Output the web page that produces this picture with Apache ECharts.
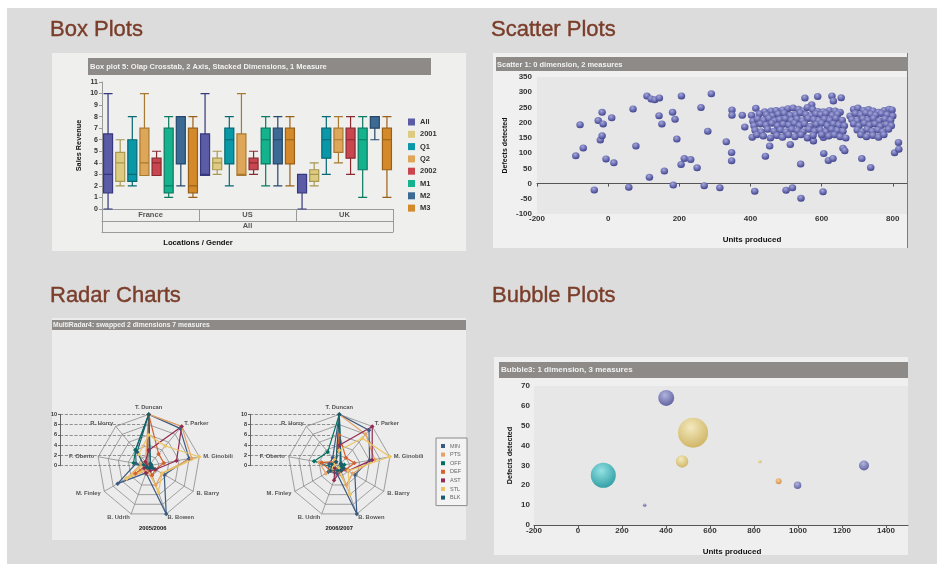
<!DOCTYPE html>
<html><head><meta charset="utf-8">
<script src="https://cdn.jsdelivr.net/npm/echarts@6/dist/echarts.min.js"></script>
<style>html,body{margin:0;padding:0;background:#fff}#c{width:937px;height:564px}</style>
</head><body><div id="c"></div><script>
// ---------- Box plot data ----------
const boxGroups = ['France', 'US', 'UK'];
const boxSeriesNames = ['All', '2001', 'Q1', 'Q2', '2002', 'M1', 'M2', 'M3'];
const boxColors = ['#5b5ba6', '#dccb80', '#0a98a8', '#dea658', '#c9464f', '#14b38e', '#3c6a94', '#d4892a'];
const boxBorders = ['#37377e', '#a89850', '#066872', '#a87a30', '#8a2a30', '#0a7a60', '#24486a', '#9a6018'];
// [min, Q1, median, Q3, max] per series
const boxFrance = [[0,1.4,3,6.5,10],[2,2.4,4,4.9,6],[2,2.4,3,6,8],[2.9,2.9,4,7,10],[2.9,2.9,4,4.4,5],[1,1.4,2,7,8],[2,3.9,8,8,8],[1,1.4,2,7,8]];
const boxUS     = [[2.9,2.9,3,6.5,10],[3,3.4,4,4.4,5],[2,3.9,6,7,8],[2.9,2.9,3,6.5,10],[3,3.4,4,4.4,5],[2,3.9,6,7,8],[2,3.9,6,7,8],[2,3.9,6,7,8]];
const boxUK     = [[0,1.4,3,3,3],[2,2.4,3,3.4,4],[3,4.4,6,7,8],[4,4.9,6,7,8],[3,4.4,6,7,8],[1,3.4,6,7,8],[6,7,8,8,8],[1,3.4,6,7,8]];

// ---------- Scatter data [units produced, defects detected] ----------
const scatterPoints = [
[-91,91],[-79,193],[-70,117],[-39,-21],[-28,207],[-17,234],[-22,143],[-17,157],[-14,196],[-6,81],[10,216],[16,68],
[58,-12],[70,245],[78,123],[109,288],[116,21],[121,278],[131,275],[144,281],[143,223],[151,196],[158,41],[181,234],
[183,-5],[188,211],[193,146],[206,288],[205,63],[214,82],[232,79],[250,52],[261,250],[270,-7],[280,172],[290,295],
[314,-14],[332,137],[348,242],[348,224],[347,102],[347,75],[377,224],[384,186],[412,-25],[442,90],[454,123],[500,-22],
[518,-14],[542,-48],[541,64],[553,281],[589,286],[577,140],[606,99],[604,-27],[619,76],[632,82],[629,288],[633,271],
[655,282],[660,116],[665,108],[713,82],[738,53],[805,101],[816,135],[817,113],[572,259],[512,128],[605,151],
[415,247],[440,236],[458,238],[472,240],[490,242],[505,246],[520,248],[535,244],[548,238],[560,250],[575,243],[590,237],
[605,236],[622,240],[638,238],[652,234],[690,244],[702,248],[718,240],[732,243],[745,238],[760,234],[776,240],[790,244],[798,242],
[403,224],[425,229],[445,226],[462,222],[478,228],[495,231],[512,224],[528,226],[540,232],[556,227],[570,222],[584,229],
[598,226],[612,230],[630,224],[645,228],[680,222],[695,230],[710,226],[724,232],[738,228],[752,224],[768,230],[784,226],[800,222],
[407,205],[420,212],[437,208],[452,214],[468,206],[482,210],[498,213],[515,208],[531,212],[546,206],[562,214],[578,210],
[592,206],[608,212],[623,208],[640,214],[658,208],[685,210],[700,206],[716,213],[730,208],[746,214],[762,206],[778,212],[794,208],
[410,190],[428,196],[444,192],[460,198],[476,190],[492,195],[508,192],[524,198],[538,190],[552,196],[568,188],[585,194],
[600,198],[616,190],[633,196],[648,192],[664,190],[690,196],[705,190],[720,198],[735,192],[750,196],[765,188],[782,194],[796,190],
[413,175],[430,170],[448,178],[466,172],[484,176],[500,170],[516,178],[532,174],[548,170],[564,178],[580,172],[596,176],
[612,170],[628,178],[644,174],[660,172],[700,176],[714,170],[728,178],[742,172],[758,176],[772,170],[788,178],
[405,152],[418,160],[436,156],[456,150],[474,158],[490,152],[507,160],[525,154],[542,160],[560,150],[576,158],[600,160],
[620,156],[636,160],[652,154],[668,150],[710,160],[726,154],[744,158],[760,152],[775,160]
];

// ---------- Bubble data ----------
const bubbleUnits   = [401, 523, 473, 115, 303, 827, 912, 998, 1300];
const bubbleDefects = [64, 46.5, 32, 25, 10, 32, 22, 20, 30];
const bubbleSize    = [64, 225, 39, 156, 3, 3, 9, 14, 25];
const bubbleColorKey = ['blue', 'gold', 'gold', 'teal', 'blue', 'gold', 'orange', 'blue', 'blue'];

// ---------- Radar data ----------
const radarPlayers = ['T. Duncan', 'R. Horry', 'F. Oberto', 'M. Finley', 'B. Udrih', 'B. Bowen', 'B. Barry', 'M. Ginobili', 'T. Parker'];
const radarMeasures = ['MIN', 'PTS', 'OFF', 'DEF', 'AST', 'STL', 'BLK'];
const radarColors = ['#3a5a82', '#e6a264', '#00705e', '#d4602e', '#922a52', '#ecc462', '#1a5c6c'];
const radarSeasons = ['2005/2006', '2006/2007'];
const radar0506 = [
  [10, 4, 2.5, 7, 1.5, 10, 3.5, 8, 9.5],
  [10, 1, 1.5, 5, 1, 4, 3, 8.5, 10],
  [10, 4, 3, 0.5, 0.5, 0.5, 0.5, 0.5, 0.5],
  [10, 0.5, 0.5, 3, 0.5, 2, 1.5, 3, 3],
  [3, 1, 0.5, 1, 1.5, 1, 1.5, 5.5, 10],
  [6, 3, 1, 5, 0.5, 5.5, 3, 10, 5],
  [10, 3.5, 1, 0.5, 0.5, 0.5, 1, 0.5, 0.5]
];
const radar0607 = [
  [10, 2, 2, 2.5, 1.5, 10, 3.5, 6, 9],
  [10, 1, 4, 3, 1, 4, 3, 7, 8],
  [10, 3.5, 5, 1, 0.5, 1, 0.5, 1, 0.5],
  [6, 1, 3.5, 2, 1, 1, 1.5, 3, 2],
  [4, 1, 1, 1, 3, 1, 2, 6.5, 10],
  [3, 1.5, 1, 2, 0.5, 6, 2, 10, 7],
  [10, 1, 1.5, 2, 1, 1, 1, 0.5, 0.5]
];

// ---------- build ----------
const FF = '"Liberation Sans", Arial, sans-serif';
const bold = (s, c) => ({fontSize: s, fontWeight: 'bold', color: c || '#333', fontFamily: FF});
const plain = v => String(v);

const boxRows = [boxFrance, boxUS, boxUK];
const boxSlots = [], boxData = [];
boxGroups.forEach((g, gi) => boxSeriesNames.forEach((s, si) => {
  boxSlots.push(g + ' ' + s);
  boxData.push({name: g + ' ' + s, value: boxRows[gi][si],
    itemStyle: {color: boxColors[si], borderColor: boxBorders[si], borderWidth: 1.2}});
}));

function ball(light, dark) {
  return {type: 'radial', x: 0.42, y: 0.32, r: 0.72, colorStops: [{offset: 0, color: light}, {offset: 1, color: dark}]};
}
const bubblePalette = {
  blue: ball('#a4a7dc', '#3a3d8a'), gold: ball('#f6eab4', '#c8a640'),
  teal: ball('#7ee0e2', '#008a92'), orange: ball('#f6c88a', '#d07820')
};

const radarCX = [148.7, 339.3];

const T = (x, y, text, font, fill, align, extra) => Object.assign({
  type: 'text', x: x, y: y, z: 20,
  style: {text: text, font: font, fill: fill, align: align || 'left', verticalAlign: 'middle',
          textAlign: align || 'left', textVerticalAlign: 'middle'}
}, extra || {});
const R = (x, y, w, h, fill) => ({type: 'rect', z: -10, shape: {x: x, y: y, width: w, height: h}, style: {fill: fill}});
const titleFont = 'normal 22px ' + FF;
const titleColor = '#7a3d2a';
const barColor = '#8d8a87';
const H = (x, y, text) => T(x, y, text, titleFont, titleColor, 'left',
  {style: {text: text, font: titleFont, fill: titleColor, stroke: titleColor, lineWidth: 0.4, verticalAlign: 'middle', textVerticalAlign: 'middle'}});

const option = {
  animation: false,
  textStyle: {fontFamily: FF},
  graphic: {elements: [
    R(7, 8, 930, 556, '#dcdcdc'),
    R(52, 53, 414, 198, '#efefee'),
    R(493, 53, 415, 195, '#f0f0f0'),
    R(907, 53, 1, 195, '#7a7a7a'),
    R(52, 318, 414, 222, '#ececec'),
    R(494, 357, 414, 198, '#efefef'),
    R(88, 58, 343, 17, barColor),
    R(496, 57, 412, 14, barColor),
    R(52, 320, 414, 10, barColor),
    R(499, 362, 409, 16, barColor),
    H(50, 30, 'Box Plots'),
    H(491, 30, 'Scatter Plots'),
    H(50, 296, 'Radar Charts'),
    H(492, 296, 'Bubble Plots'),
    T(90, 66.5, 'Box plot 5: Olap Crosstab, 2 Axis, Stacked Dimensions, 1 Measure', 'bold 7.5px ' + FF, '#f2f2f2'),
    T(497, 64.5, 'Scatter 1: 0 dimension, 2 measures', 'bold 7.5px ' + FF, '#f2f2f2'),
    T(53, 325, 'MultiRadar4: swapped 2 dimensions 7 measures', 'bold 6.8px ' + FF, '#f2f2f2'),
    T(501, 370, 'Bubble3: 1 dimension, 3 measures', 'bold 8px ' + FF, '#f2f2f2'),
    T(198, 243, 'Locations / Gender', 'bold 7.7px ' + FF, '#111', 'center'),
    T(152.7, 528.3, radarSeasons[0], 'bold 5.8px ' + FF, '#111', 'center'),
    T(339.3, 528.3, radarSeasons[1], 'bold 5.8px ' + FF, '#111', 'center')
  ]},
  legend: [
    {data: boxSeriesNames, orient: 'vertical', left: 408, top: 118, padding: 0, itemWidth: 7, itemHeight: 7, itemGap: 4.3,
     icon: 'rect', selectedMode: false, textStyle: bold(7.5, '#333')},
    {data: radarMeasures, orient: 'vertical', left: 436, top: 438, padding: [5, 6, 5, 5], itemWidth: 4, itemHeight: 4, itemGap: 2.6,
     icon: 'rect', selectedMode: false, borderColor: '#8a8a8a', borderWidth: 1, backgroundColor: '#f3f3f3',
     textStyle: {fontSize: 5.5, color: '#666', fontFamily: FF}}
  ],
  grid: [
    {left: 102, top: 82, width: 291, height: 127},
    {left: 537, top: 77, width: 370, height: 137, show: true, backgroundColor: '#e7e7e7', borderWidth: 0},
    {left: 534, top: 386, width: 374, height: 139, show: true, backgroundColor: '#e7e7e7', borderWidth: 0},
    {left: 60, top: 414.3, width: 88.7, height: 51.4},
    {left: 250, top: 414.3, width: 89.3, height: 51.4}
  ],
  xAxis: [
    {gridIndex: 0, type: 'category', data: boxSlots, axisLine: {lineStyle: {color: '#9a9a9a'}}, axisTick: {show: false}, axisLabel: {show: false}},
    {gridIndex: 0, type: 'category', data: boxGroups, position: 'bottom', offset: 12,
     axisLine: {lineStyle: {color: '#9a9a9a'}}, axisTick: {show: true, inside: true, length: 12, lineStyle: {color: '#9a9a9a'}},
     axisLabel: Object.assign({margin: -10.5}, bold(7.5, '#555'))},
    {gridIndex: 0, type: 'category', data: ['All'], position: 'bottom', offset: 23,
     axisLine: {lineStyle: {color: '#9a9a9a'}}, axisTick: {show: true, inside: true, length: 11, lineStyle: {color: '#9a9a9a'}},
     axisLabel: Object.assign({margin: -10}, bold(7.5, '#555'))},
    {gridIndex: 1, type: 'value', min: -200, max: 840, interval: 200, splitLine: {show: false},
     axisLine: {lineStyle: {color: '#555'}}, axisTick: {show: true, length: 3, lineStyle: {color: '#555'}},
     axisLabel: Object.assign({margin: 1, showMaxLabel: false, formatter: plain}, bold(8)),
     name: 'Units produced', nameLocation: 'middle', nameGap: 22, nameTextStyle: Object.assign({padding: [0, 0, 0, 60]}, bold(8, '#111'))},
    {gridIndex: 2, type: 'value', min: -200, max: 1500, interval: 200, splitLine: {show: false},
     axisLine: {lineStyle: {color: '#555'}}, axisTick: {show: true, length: 3, lineStyle: {color: '#555'}},
     axisLabel: Object.assign({margin: 2, showMaxLabel: false, formatter: plain}, bold(8)),
     name: 'Units produced', nameLocation: 'middle', nameGap: 23, nameTextStyle: Object.assign({padding: [0, 0, 0, 22]}, bold(8, '#111'))},
    {gridIndex: 3, type: 'value', show: false, min: 0, max: 1},
    {gridIndex: 4, type: 'value', show: false, min: 0, max: 1}
  ],
  yAxis: [
    {gridIndex: 0, type: 'value', min: 0, max: 11, interval: 1, splitLine: {show: false},
     axisLine: {show: true, lineStyle: {color: '#9a9a9a'}}, axisTick: {show: true, length: 3, lineStyle: {color: '#9a9a9a'}},
     axisLabel: Object.assign({margin: 4}, bold(7)),
     name: 'Sales Revenue', nameLocation: 'middle', nameGap: 20, nameTextStyle: bold(7.3, '#111')},
    {gridIndex: 1, type: 'value', min: -100, max: 350, interval: 50, splitLine: {show: false},
     axisLine: {show: false}, axisTick: {show: false}, axisLabel: Object.assign({margin: 5}, bold(8)),
     name: 'Defects detected', nameLocation: 'middle', nameGap: 28, nameTextStyle: bold(7, '#111')},
    {gridIndex: 2, type: 'value', min: 0, max: 70, interval: 10, splitLine: {show: false},
     axisLine: {show: false}, axisTick: {show: false}, axisLabel: Object.assign({margin: 4}, bold(8)),
     name: 'Defects detected', nameLocation: 'middle', nameGap: 20, nameTextStyle: bold(7.2, '#111')},
    {gridIndex: 3, type: 'value', min: 0, max: 10, interval: 2,
     axisLine: {show: true, lineStyle: {color: '#666'}}, axisTick: {show: true, length: 2, lineStyle: {color: '#666'}},
     axisLabel: Object.assign({margin: 3}, bold(5.5)),
     splitLine: {show: true, lineStyle: {type: 'dashed', color: '#777', width: 0.8}}},
    {gridIndex: 4, type: 'value', min: 0, max: 10, interval: 2,
     axisLine: {show: true, lineStyle: {color: '#666'}}, axisTick: {show: true, length: 2, lineStyle: {color: '#666'}},
     axisLabel: Object.assign({margin: 3}, bold(5.5)),
     splitLine: {show: true, lineStyle: {type: 'dashed', color: '#777', width: 0.8}}}
  ],
  radar: radarCX.map(cx => ({
    center: [cx, 465.7], radius: 51.3, startAngle: 90, splitNumber: 5, shape: 'polygon',
    indicator: radarPlayers.map(p => ({name: p, min: 0, max: 10})),
    axisName: bold(5.8, '#555'), nameGap: 4,
    splitLine: {lineStyle: {color: '#8a8a8a', width: 0.8}},
    splitArea: {show: false},
    axisLine: {lineStyle: {color: '#8a8a8a', width: 0.8}}
  })),
  series: [
    {type: 'boxplot', xAxisIndex: 0, yAxisIndex: 0, boxWidth: [9, 9], data: boxData, emphasis: {disabled: true}},
    ...boxSeriesNames.map((n, i) => ({type: 'line', name: n, xAxisIndex: 0, yAxisIndex: 0, data: [],
      itemStyle: {color: boxColors[i]}, lineStyle: {color: boxColors[i]}})),
    {type: 'scatter', xAxisIndex: 3, yAxisIndex: 1, data: scatterPoints, symbolSize: [7.5, 7],
     itemStyle: {color: bubblePalette.blue, opacity: 1}, emphasis: {disabled: true}},
    {type: 'scatter', xAxisIndex: 4, yAxisIndex: 2, emphasis: {disabled: true},
     data: bubbleUnits.map((u, i) => ({value: [u, bubbleDefects[i], bubbleSize[i]], itemStyle: {color: bubblePalette[bubbleColorKey[i]]}})),
     symbolSize: v => 2 * Math.sqrt(v[2])},
    ...[radar0506, radar0607].map((vals, ri) => ({
      type: 'radar', radarIndex: ri, symbol: 'diamond', symbolSize: 4.5, emphasis: {disabled: true},
      data: radarMeasures.map((m, i) => ({name: m, value: vals[i],
        lineStyle: {color: radarColors[i], width: 1.2}, itemStyle: {color: radarColors[i]}}))
    }))
  ]
};
const chart = echarts.init(document.getElementById('c'));
chart.setOption(option);
</script></body></html>
